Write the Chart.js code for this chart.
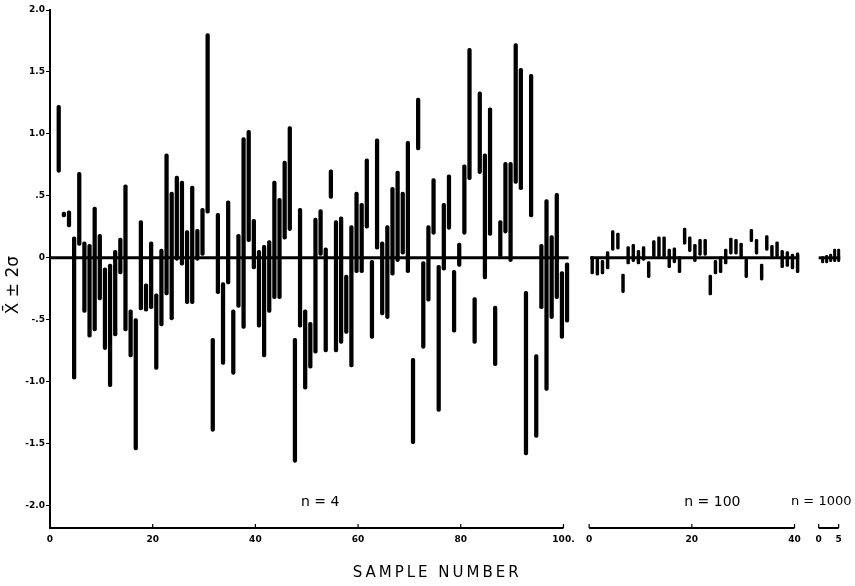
<!DOCTYPE html>
<html>
<head>
<meta charset="utf-8">
<script src="https://cdn.jsdelivr.net/npm/chart.js@4.4.1/dist/chart.umd.min.js"></script>
<style>
  html, body { margin: 0; padding: 0; background: #fff; }
  #wrap { width: 855px; height: 586px; }
</style>
</head>
<body>
<div id="wrap"><canvas id="chart"></canvas></div>
<script>
// xbar - 2 sigma / xbar + 2 sigma for each sample
// n = 4, samples 1..100
const n4Low = [0.69, 0.33, 0.25, -0.98, 0.10, -0.44, -0.64, -0.59, -0.34, -0.74,
  -1.04, -0.63, -0.13, -0.59, -0.80, -1.55, -0.42, -0.43, -0.41, -0.90,
  -0.55, -0.30, -0.50, -0.02, -0.06, -0.37, -0.37, -0.02, 0.02, 0.36,
  -1.40, -0.29, -0.86, -0.21, -0.94, -0.40, -0.57, 0.13, -0.09, -0.56,
  -0.80, -0.44, -0.33, -0.33, 0.15, 0.22, -1.65, -0.56, -1.06, -0.89,
  -0.77, 0.02, -0.76, 0.48, -0.76, -0.69, -0.61, -0.88, -0.12, -0.12,
  0.24, -0.65, 0.07, -0.46, -0.49, -0.14, -0.03, 0.03, -0.12, -1.50,
  0.87, -0.73, -0.35, 0.19, -1.24, -0.10, 0.23, -0.60, -0.07, 0.19,
  0.63, -0.69, 0.68, -0.17, 0.18, -0.87, 0.01, 0.20, -0.03, 0.60,
  0.55, -1.59, 0.33, -1.45, -0.41, -1.07, -0.49, -0.33, -0.65, -0.52];
const n4High = [1.23, 0.37, 0.38, 0.17, 0.69, 0.13, 0.11, 0.41, 0.19, -0.08,
  -0.05, 0.06, 0.16, 0.59, -0.42, -0.49, 0.30, -0.21, 0.13, -0.29,
  0.07, 0.84, 0.53, 0.66, 0.62, 0.22, 0.58, 0.23, 0.40, 1.81,
  -0.65, 0.36, -0.20, 0.46, -0.42, 0.19, 0.97, 1.03, 0.31, 0.06,
  0.10, 0.14, 0.62, 0.48, 0.78, 1.06, -0.65, 0.40, -0.42, -0.52,
  0.32, 0.39, 0.08, 0.71, 0.30, 0.33, -0.14, 0.26, 0.53, 0.44,
  0.80, -0.02, 0.96, 0.13, 0.26, 0.57, 0.70, 0.53, 0.94, -0.81,
  1.29, -0.03, 0.26, 0.64, -0.06, 0.44, 0.67, -0.10, 0.12, 0.75,
  1.69, -0.32, 1.34, 0.84, 1.21, -0.39, 0.30, 0.77, 0.77, 1.73,
  1.53, -0.27, 1.48, -0.78, 0.11, 0.47, 0.18, 0.52, -0.11, -0.04];

// n = 100
const n100Low = [-0.13, -0.14, -0.13, -0.09, 0.06, 0.07, -0.28, -0.05, -0.03, -0.05,
  -0.02, -0.16, 0.01, 0.01, 0.01, -0.08, -0.04, -0.12, 0.11, 0.05,
  -0.03, 0.02, 0.02, -0.30, -0.13, -0.12, -0.05, 0.03, 0.03, 0.00,
  -0.16, 0.13, 0.03, -0.18, 0.06, 0.01, 0.01, -0.08, -0.07, -0.09, -0.12];
const n100High = [0.01, -0.01, -0.02, 0.05, 0.22, 0.20, -0.13, 0.09, 0.11, 0.06,
  0.09, -0.03, 0.14, 0.17, 0.17, 0.07, 0.08, 0.01, 0.24, 0.17,
  0.11, 0.15, 0.15, -0.14, -0.02, 0.01, 0.07, 0.16, 0.15, 0.12,
  -0.01, 0.23, 0.15, -0.05, 0.18, 0.10, 0.13, 0.06, 0.05, 0.03, 0.04];

// n = 1000
const n1000Low = [-0.04, -0.04, -0.03, -0.03, -0.03];
const n1000High = [0.01, 0.02, 0.03, 0.07, 0.07];

const trueMean = 0;

// the three groups share one x axis, each with its own origin
const n4Start = 0, n100Start = 105, n1000Start = 149.7, n1000Unit = 0.78;

const yTicks = [-2, -1.5, -1, -0.5, 0, 0.5, 1, 1.5, 2];
const yTickLabels = ['-2.0', '-1.5', '-1.0', '-.5', '0', '.5', '1.0', '1.5', '2.0'];
const xTicks = [0, 20, 40, 60, 80, 100, n100Start, n100Start + 20, n100Start + 40, n1000Start, n1000Start + 5 * n1000Unit];
const xTickLabels = ['0', '20', '40', '60', '80', '100.', '0', '20', '40', '0', '5'];

function bars(low, high, start, first, step) {
  return low.map((lo, i) => ({ x: start + first + i * step, y: [lo, high[i]] }));
}

const n4Bars = bars(n4Low, n4High, n4Start, 1.7, 1);
const n100Bars = bars(n100Low, n100High, n100Start, 0.6, 1);
const n1000Bars = bars(n1000Low, n1000High, n1000Start, n1000Unit, n1000Unit);

// mean line runs from the group's origin to just past its last sample
function meanLine(start, group) {
  return [{ x: start, y: trueMean }, { x: group[group.length - 1].x + 0.3, y: trueMean }];
}

const axisPieces = [[n4Start, 100], [n100Start, n100Start + 40], [n1000Start, n1000Start + 5 * n1000Unit]];
const groupLabels = [
  { text: 'n = 4', at: 52.6 },
  { text: 'n = 100', at: 129 },
  { text: 'n = 1000', at: 150.2 }
];

const paperMarks = {
  id: 'paperMarks',
  afterDraw(chart) {
    const { ctx, chartArea, scales: { x, y } } = chart;
    ctx.save();
    ctx.strokeStyle = '#000';
    ctx.lineWidth = 2;
    axisPieces.forEach(([a, b]) => {
      ctx.beginPath();
      ctx.moveTo(x.getPixelForValue(a), chartArea.bottom);
      ctx.lineTo(x.getPixelForValue(b), chartArea.bottom);
      ctx.stroke();
    });
    ctx.lineWidth = 1.2;
    xTicks.forEach(v => {
      const px = x.getPixelForValue(v);
      ctx.beginPath();
      ctx.moveTo(px, chartArea.bottom);
      ctx.lineTo(px, chartArea.bottom - 4);
      ctx.stroke();
    });

    ctx.fillStyle = '#000';
    ctx.textAlign = 'center';
    ctx.textBaseline = 'middle';
    ctx.font = '14px "DejaVu Sans"';
    groupLabels.forEach(g => {
      ctx.font = g.text.length > 7 ? '13px "DejaVu Sans"' : '14px "DejaVu Sans"';
      ctx.fillText(g.text, x.getPixelForValue(g.at), y.getPixelForValue(-1.97));
    });

    ctx.font = '15px "DejaVu Sans"';
    ctx.letterSpacing = '3px';
    ctx.fillText('SAMPLE NUMBER', x.getPixelForValue(75.4), chartArea.bottom + 45);
    ctx.letterSpacing = '0px';

    ctx.translate(14, y.getPixelForValue(-0.22));
    ctx.rotate(-Math.PI / 2);
    ctx.font = '17px "DejaVu Sans"';
    ctx.fillText('X\u0304 \u00B1 2\u03C3', 0, 0);
    ctx.restore();
  }
};

const barStyle = {
  type: 'bar',
  backgroundColor: '#000',
  borderWidth: 0,
  borderSkipped: false,
  borderRadius: 2,
  grouped: false
};
const lineStyle = {
  type: 'line',
  borderColor: '#000',
  borderWidth: 3,
  pointRadius: 0,
  fill: false
};

new Chart(document.getElementById('chart'), {
  type: 'bar',
  data: {
    datasets: [
      { ...lineStyle, label: 'mean n=4', data: meanLine(n4Start, n4Bars) },
      { ...lineStyle, label: 'mean n=100', data: meanLine(n100Start + 0.2, n100Bars) },
      { ...lineStyle, label: 'mean n=1000', data: meanLine(n1000Start, n1000Bars) },
      { ...barStyle, label: 'n = 4', data: n4Bars, barThickness: 3.6 },
      { ...barStyle, label: 'n = 100', data: n100Bars, barThickness: 2.8 },
      { ...barStyle, label: 'n = 1000', data: n1000Bars, barThickness: 2.4 }
    ]
  },
  options: {
    responsive: true,
    maintainAspectRatio: false,
    animation: false,
    layout: { padding: { top: 10, right: 4, left: 0, bottom: 0 } },
    plugins: { legend: { display: false }, tooltip: { enabled: false } },
    scales: {
      x: {
        type: 'linear',
        offset: false,
        min: 0,
        max: 156,
        grid: { display: false, drawTicks: false },
        border: { display: false },
        afterBuildTicks: s => { s.ticks = xTicks.map(v => ({ value: v })); },
        afterFit: s => { s.height = 58; },
        ticks: {
          autoSkip: false,
          maxRotation: 0,
          padding: 6,
          color: '#000',
          font: { family: 'DejaVu Sans', size: 9, weight: 'bold' },
          callback: (v, i) => xTickLabels[i]
        }
      },
      y: {
        min: -2.18,
        max: 2.0,
        grid: { drawOnChartArea: false, drawTicks: true, tickLength: 4, color: '#000' },
        border: { display: true, color: '#000', width: 2 },
        afterBuildTicks: s => { s.ticks = yTicks.map(v => ({ value: v })); },
        afterFit: s => { s.width = 50; },
        ticks: {
          padding: 1,
          color: '#000',
          font: { family: 'DejaVu Sans', size: 9, weight: 'bold' },
          callback: (v, i) => yTickLabels[i]
        }
      }
    }
  },
  plugins: [paperMarks]
});
</script>
</body>
</html>
